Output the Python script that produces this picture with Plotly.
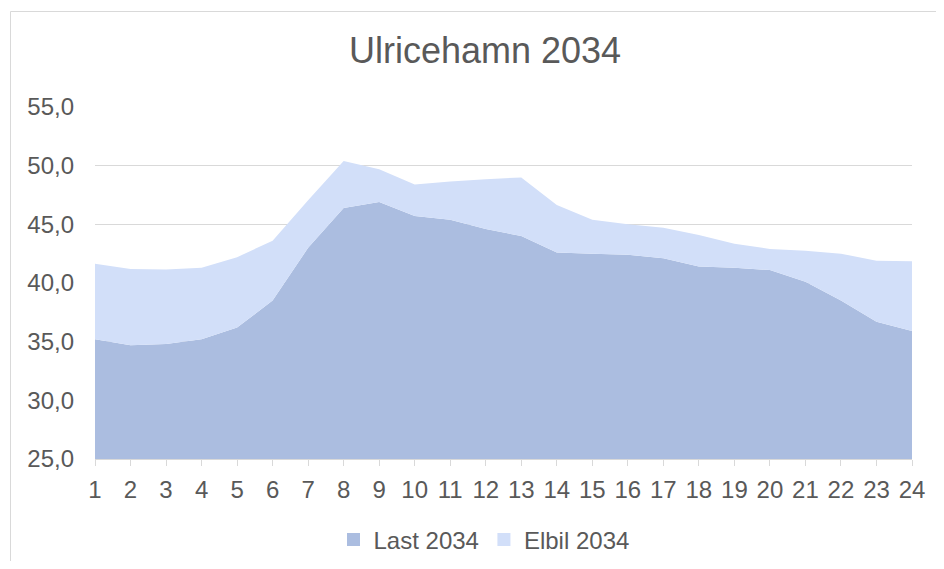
import plotly.graph_objects as go

hours = list(range(1, 25))
last_2034 = [35.2, 34.7, 34.8, 35.2, 36.2, 38.5, 43.0, 46.4, 46.9, 45.7, 45.4, 44.6,
             44.0, 42.6, 42.5, 42.4, 42.1, 41.4, 41.3, 41.1, 40.1, 38.5, 36.7, 35.9]
elbil_2034 = [6.45, 6.5, 6.35, 6.1, 6.0, 5.1, 4.05, 4.0, 2.8, 2.7, 3.25, 4.25,
              5.0, 4.05, 2.9, 2.6, 2.6, 2.7, 2.05, 1.8, 2.65, 4.0, 5.2, 5.95]
series_names = ["Last 2034", "Elbil 2034"]
y_ticks = [25, 30, 35, 40, 45, 50, 55]
title_text = "Ulricehamn 2034"

c_last = "#ABBDE0"
c_elbil = "#D2DFF9"
txt = "#595959"
grid = "#D9D9D9"
font_fam = "Arial, Liberation Sans, sans-serif"

fig = go.Figure()
fig.add_trace(go.Scatter(x=hours, y=last_2034, stackgroup="one", mode="none",
                         fillcolor=c_last, name=series_names[0], showlegend=False,
                         hoverinfo="skip"))
fig.add_trace(go.Scatter(x=hours, y=elbil_2034, stackgroup="one", mode="none",
                         fillcolor=c_elbil, name=series_names[1], showlegend=False,
                         hoverinfo="skip"))
# legend entries
for name, col in zip(series_names, [c_last, c_elbil]):
    fig.add_trace(go.Scatter(x=[None], y=[None], mode="markers", name=name,
                             marker=dict(symbol="square", size=13, color=col)))

# page body margin offsets the figure by 8px
OFF = 8
W, H = 944 - 2 * OFF, 569 - 2 * OFF
# plot area in window pixels: x 95..912, y 107..459
L = 95 - OFF
T = 107 - OFF
R = W - (912 - OFF)
B = H - (459 - OFF)
pw, ph = W - L - R, H - T - B

def px_x(p):
    return (p - OFF - L) / pw

def px_y(p):
    return (H - B - (p - OFF)) / ph

fig.update_layout(
    width=W, height=H,
    margin=dict(l=L, r=R, t=T, b=B, autoexpand=False),
    paper_bgcolor="white", plot_bgcolor="white",
    separators=", ",
    font=dict(family=font_fam, color=txt, size=24),
    title=dict(text=title_text, x=px_x(485), xref="paper", xanchor="center",
               y=1 - (50 - OFF) / H, yref="container", yanchor="middle",
               font=dict(size=36, color=txt, family=font_fam)),
    xaxis=dict(range=[1, 24], tickvals=hours, ticktext=[str(h) for h in hours],
               showgrid=False, showline=True, linecolor=grid, linewidth=1,
               ticks="outside", ticklen=6, tickcolor=grid, tickwidth=1,
               tickfont=dict(size=24, color=txt), zeroline=False,
               ticklabelstandoff=3),
    yaxis=dict(range=[25, 55], tickvals=y_ticks, tickformat=".1f",
               showgrid=True, gridcolor=grid, gridwidth=1.3, zeroline=False,
               showline=False, ticks="", tickfont=dict(size=24, color=txt),
               ticklabelstandoff=20),
    legend=dict(orientation="h", x=px_x(484), xanchor="center",
                yref="container", y=1 - (540 - OFF) / H, yanchor="middle",
                font=dict(size=24, color=txt),
                bgcolor="rgba(0,0,0,0)", traceorder="normal"),
    shapes=[dict(type="rect", xref="paper", yref="paper",
                 x0=px_x(10.5), x1=px_x(960), y0=px_y(590), y1=px_y(11.5),
                 line=dict(color=grid, width=1), fillcolor="rgba(0,0,0,0)",
                 layer="below")],
)

fig.write_html("out.html")
